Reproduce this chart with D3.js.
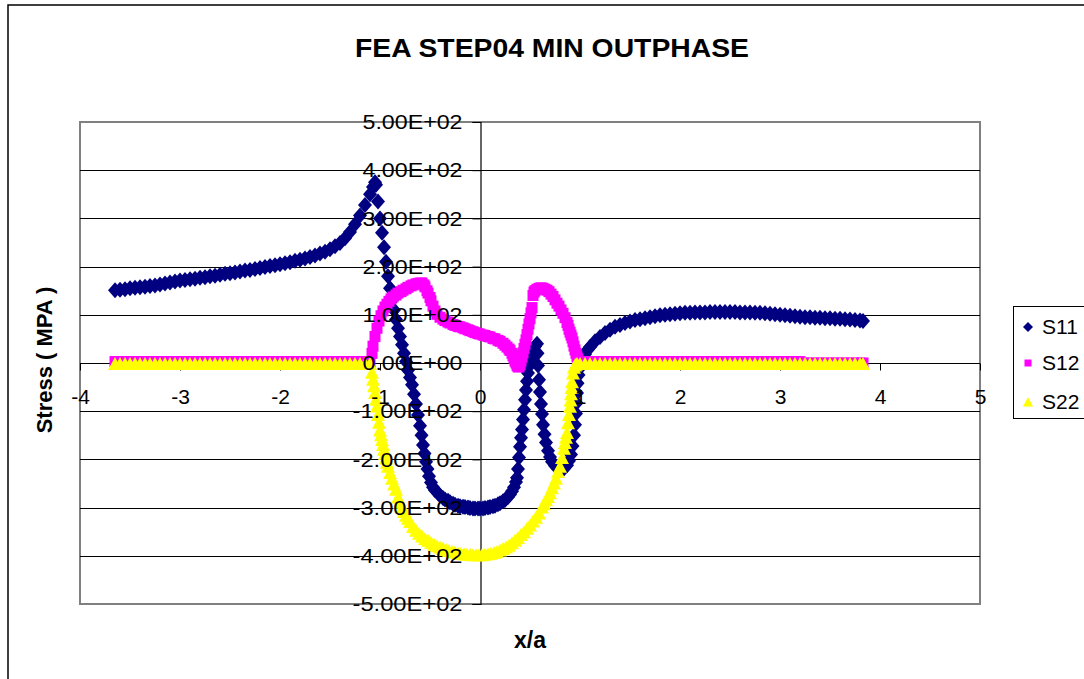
<!DOCTYPE html>
<html><head><meta charset="utf-8">
<script src="https://cdn.jsdelivr.net/npm/d3@7/dist/d3.min.js"></script>
<style>body{margin:0;background:#fff}svg{display:block}text{font-family:"Liberation Sans",Arial,sans-serif}</style>
</head><body><svg id="c" width="1084" height="679"></svg>
<script>
const chartTitle = "FEA STEP04 MIN OUTPHASE";
const xTitle = "x/a";
const yTitle = "Stress ( MPA )";
const xTicks = [-4,-3,-2,-1,0,1,2,3,4,5];
const yTicks = [500,400,300,200,100,0,-100,-200,-300,-400,-500];
const yTickLabels = ["5.00E+02","4.00E+02","3.00E+02","2.00E+02","1.00E+02","0.00E+00","-1.00E+02","-2.00E+02","-3.00E+02","-4.00E+02","-5.00E+02"];
const seriesNames = ["S11","S12","S22"];

const s11X = [-3.65,-3.6,-3.55,-3.5,-3.45,-3.4,-3.35,-3.3,-3.25,-3.2,-3.15,-3.1,-3.05,-3,-2.95,-2.9,-2.85,-2.8,-2.75,-2.7,-2.65,-2.6,-2.55,-2.5,-2.45,-2.4,-2.35,-2.3,-2.25,-2.2,-2.15,-2.1,-2.05,-2,-1.95,-1.9,-1.85,-1.8,-1.75,-1.7,-1.65,-1.6,-1.55,-1.5,-1.45,-1.4,-1.35,-1.3,-1.25,-1.2,-1.15,-1.1,-1.07,-1.05,
 -1.04,-1.02,-1,-0.98,-0.96,-0.94,-0.92,-0.9,-0.88,-0.86,-0.84,-0.82,-0.8,-0.78,-0.76,-0.74,-0.72,-0.7,-0.68,-0.66,-0.64,-0.62,-0.6,-0.585,-0.57,-0.555,-0.54,-0.525,-0.51,-0.49,-0.47,
 -0.45,-0.42,-0.4,-0.37,-0.35,-0.32,-0.3,-0.27,-0.25,-0.22,-0.2,-0.17,-0.15,-0.12,-0.1,-0.07,-0.05,-0.02,0,0.03,0.05,0.08,0.1,0.13,0.15,0.18,0.2,0.23,0.25,0.28,0.3,0.32,0.34,0.36,0.37,
 0.38,0.39,0.4,0.41,0.42,0.43,0.44,0.45,0.46,0.47,0.48,0.5,0.51,0.53,0.55,0.57,
 0.575,0.58,0.59,0.6,0.61,0.62,0.63,0.645,0.66,0.68,0.7,0.72,0.75,0.78,0.81,0.84,0.87,0.89,0.91,0.925,0.94,0.95,0.96,0.965,0.97,0.975,0.985,1,1.02,1.05,1.08,
 1.1,1.15,1.2,1.25,1.3,1.35,1.4,1.45,1.5,1.55,1.6,1.65,1.7,1.75,1.8,1.85,1.9,1.95,2,2.05,2.1,2.15,2.2,2.25,2.3,2.35,2.4,2.45,2.5,2.55,2.6,2.65,2.7,2.75,2.8,2.85,2.9,2.95,3,3.05,3.1,3.15,3.2,3.25,3.3,3.35,3.4,3.45,3.5,3.55,3.6,3.65,3.7,3.75,3.8,3.83];
const s11Y = [151,152,153,155,156,157,158,160,161,163,165,167,169,171,172,174,175,177,178,180,181,183,185,186,188,190,192,193,195,197,199,201,203,205,207,209,212,214,217,220,223,227,231,236,242,249,259,272,288,306,328,350,365,375,
 370,335,300,270,240,210,180,155,130,110,90,72,55,38,20,3,-15,-30,-45,-65,-85,-108,-130,-150,-170,-188,-205,-220,-235,-248,-258,
 -264,-270,-275,-280,-283,-286,-289,-292,-294,-296,-297,-298,-299,-300,-301,-302,-302,-302,-302,-302,-301,-300,-299,-297,-296,-293,-291,-287,-284,-278,-273,-266,-258,-247,-238,
 -220,-196,-174,-155,-138,-117,-97,-76,-56,-38,-21,-4,10,24,34,40,
 20,-5,-35,-60,-85,-106,-128,-148,-165,-182,-195,-205,-213,-219,-221,-219,-212,-203,-190,-172,-150,-128,-105,-83,-62,-42,-25,-10,4,18,28,
 33,45,54,62,69,75,79,83,86,89,91,93,95,97,99,100,101,102,103,104,104,105,105,105,106,106,106,106,106,106,105,105,105,104,104,103,102,101,100,99,98,97,96,95,95,94,94,93,93,92,92,91,90,89,88,87];

const s12X = [-3.65,-3.6,-3.55,-3.5,-3.45,-3.4,-3.35,-3.3,-3.25,-3.2,-3.15,-3.1,-3.05,-3,-2.95,-2.9,-2.85,-2.8,-2.75,-2.7,-2.65,-2.6,-2.55,-2.5,-2.45,-2.4,-2.35,-2.3,-2.25,-2.2,-2.15,-2.1,-2.05,-2,-1.95,-1.9,-1.85,-1.8,-1.75,-1.7,-1.65,-1.6,-1.55,-1.5,-1.45,-1.4,-1.35,-1.3,-1.25,-1.2,-1.15,-1.1,
 -1.08,-1.07,-1.05,-1.03,-1.01,-0.99,-0.97,-0.95,-0.93,-0.91,-0.89,-0.87,-0.84,-0.82,-0.79,-0.77,-0.74,-0.72,-0.69,-0.67,-0.64,-0.62,-0.6,-0.58,-0.56,-0.55,-0.53,-0.52,-0.5,-0.49,-0.47,-0.45,-0.43,-0.4,-0.37,-0.35,-0.32,-0.3,-0.27,-0.25,-0.22,-0.2,-0.17,-0.15,-0.12,-0.1,-0.07,-0.05,-0.02,0,0.03,0.05,0.08,0.1,0.13,0.15,0.18,0.2,0.23,0.25,0.27,0.29,0.3,0.32,0.33,0.34,0.35,0.36,0.37,0.38,0.39,0.4,0.41,0.42,0.43,0.44,0.45,0.46,0.47,0.48,0.49,0.5,0.51,0.52,0.53,0.54,0.55,0.57,0.59,0.61,0.63,0.65,0.67,0.69,0.71,0.73,0.75,0.77,0.79,0.81,0.83,0.85,0.87,0.88,0.89,0.9,0.91,0.92,0.93,0.94,0.95,0.96,0.97,0.98,
 1,1.05,1.1,1.15,1.2,1.25,1.3,1.35,1.4,1.45,1.5,1.55,1.6,1.65,1.7,1.75,1.8,1.85,1.9,1.95,2,2.05,2.1,2.15,2.2,2.25,2.3,2.35,2.4,2.45,2.5,2.55,2.6,2.65,2.7,2.75,2.8,2.85,2.9,2.95,3,3.05,3.1,3.15,3.2,3.25,3.3,3.35,3.4,3.45,3.5,3.55,3.6,3.65,3.7,3.75,3.8,3.83];
const s12Y = [3,3,3,3,3,3,3,3,3,3,3,3,3,3,3,3,3,3,3,3,3,3,3,3,3,3,3,3,3,3,3,3,3,3,3,3,3,3,3,3,3,3,3,3,3,3,3,3,3,3,3,3,
 20,35,55,72,87,98,108,116,122,128,133,137,141,145,148,151,154,157,160,162,164,165,166,166,162,158,150,145,136,129,118,108,101,95,91,88,85,83,80,78,76,75,73,71,69,67,65,63,61,60,58,57,55,54,51,50,47,45,41,37,33,29,26,20,15,10,4,0,-5,-8,-8,-4,4,12,21,30,39,48,59,70,81,92,104,115,140,147,150,153,155,156,155,153,151,148,143,138,131,124,118,110,103,94,84,78,70,64,58,52,44,35,27,20,13,8,
 3,3,3,3,3,3,3,3,3,3,3,3,3,3,3,3,3,3,3,3,3,3,3,3,3,3,3,3,3,3,3,3,3,3,3,3,3,3,3,3,3,3,3,3,3,0,0,0,0,0,0,0,0,0,0,0,0,0];

const s22X = [-3.65,-3.6,-3.55,-3.5,-3.45,-3.4,-3.35,-3.3,-3.25,-3.2,-3.15,-3.1,-3.05,-3,-2.95,-2.9,-2.85,-2.8,-2.75,-2.7,-2.65,-2.6,-2.55,-2.5,-2.45,-2.4,-2.35,-2.3,-2.25,-2.2,-2.15,-2.1,-2.05,-2,-1.95,-1.9,-1.85,-1.8,-1.75,-1.7,-1.65,-1.6,-1.55,-1.5,-1.45,-1.4,-1.35,-1.3,-1.25,-1.2,-1.15,-1.1,
 -1.08,-1.07,-1.06,-1.05,-1.04,-1.03,-1.02,-1.01,-1,-0.99,-0.98,-0.97,-0.96,-0.95,-0.94,-0.93,-0.92,-0.9,-0.88,-0.86,-0.84,-0.82,-0.8,-0.78,-0.76,-0.74,-0.72,-0.7,-0.67,-0.64,-0.61,-0.58,-0.55,-0.52,-0.49,-0.46,-0.43,-0.4,-0.37,-0.34,-0.31,-0.28,-0.25,-0.22,-0.19,-0.16,-0.13,-0.1,-0.07,-0.04,-0.01,0.02,0.05,0.08,0.11,0.14,0.17,0.2,0.23,0.26,0.29,0.32,0.35,0.38,0.41,0.44,0.47,0.5,0.53,0.56,0.59,0.62,0.64,0.66,0.68,0.7,0.72,0.74,0.76,0.78,0.8,0.82,0.84,0.85,0.86,0.87,0.88,0.89,0.9,0.905,0.91,0.915,0.92,0.93,0.94,0.95,0.96,0.97,
 1,1.05,1.1,1.15,1.2,1.25,1.3,1.35,1.4,1.45,1.5,1.55,1.6,1.65,1.7,1.75,1.8,1.85,1.9,1.95,2,2.05,2.1,2.15,2.2,2.25,2.3,2.35,2.4,2.45,2.5,2.55,2.6,2.65,2.7,2.75,2.8,2.85,2.9,2.95,3,3.05,3.1,3.15,3.2,3.25,3.3,3.35,3.4,3.45,3.5,3.55,3.6,3.65,3.7,3.75,3.8,3.83];
const s22Y = [-2,-2,-2,-2,-2,-2,-2,-2,-2,-2,-2,-2,-2,-2,-2,-2,-2,-2,-2,-2,-2,-2,-2,-2,-2,-2,-2,-2,-2,-2,-2,-2,-2,-2,-2,-2,-2,-2,-2,-2,-2,-2,-2,-2,-2,-2,-2,-2,-2,-2,-2,-2,
 -20,-35,-48,-62,-76,-90,-108,-124,-140,-150,-160,-170,-180,-189,-198,-207,-215,-228,-240,-252,-263,-279,-290,-300,-309,-317,-323,-330,-340,-348,-354,-360,-365,-369,-373,-377,-380,-383,-385,-388,-390,-392,-393,-395,-396,-397,-398,-398,-399,-399,-399,-399,-398,-397,-396,-394,-392,-389,-386,-383,-379,-374,-369,-363,-357,-351,-344,-337,-329,-321,-312,-300,-293,-285,-278,-270,-260,-250,-240,-226,-215,-197,-178,-166,-155,-145,-125,-108,-91,-78,-65,-52,-40,-22,-10,-5,-3,-2,
 -2,-2,-2,-2,-2,-2,-2,-2,-2,-2,-2,-2,-2,-2,-2,-2,-2,-2,-2,-2,-2,-2,-2,-2,-2,-2,-2,-2,-2,-2,-2,-2,-2,-2,-2,-2,-2,-2,-2,-2,-2,-2,-2,-2,-2,-2,-2,-2,-2,-2,-2,-2,-2,-2,-2,-2,-2,-2];

const svg = d3.select("#c");
const x = d3.scaleLinear().domain([-4,5]).range([80,980]);
const y = d3.scaleLinear().domain([-500,500]).range([604,122]);

// outer chart border
svg.append("rect").attr("x",8).attr("y",5).attr("width",1100).attr("height",700)
  .attr("fill","#fff").attr("stroke","#000").attr("stroke-width",1.5);

// title
svg.append("text").attr("x",552).attr("y",57).attr("text-anchor","middle")
  .attr("font-size",25).attr("font-weight","bold").attr("textLength",394).attr("lengthAdjust","spacingAndGlyphs").text(chartTitle);

// plot area
svg.append("rect").attr("x",x(-4)).attr("y",y(500)).attr("width",x(5)-x(-4)).attr("height",y(-500)-y(500))
  .attr("fill","#fff").attr("stroke","#808080").attr("stroke-width",2);

// gridlines
svg.append("g").selectAll("line").data(yTicks.filter(v=>Math.abs(v)<500 && v!==0)).join("line")
  .attr("x1",x(-4)).attr("x2",x(5)).attr("y1",d=>Math.round(y(d))+0.5).attr("y2",d=>Math.round(y(d))+0.5)
  .attr("stroke","#000").attr("stroke-width",1);

// axes (lines & ticks, under series)
const xAxisG = svg.append("g").attr("transform",`translate(0,${Math.round(y(0))+0.5})`)
  .call(d3.axisBottom(x).tickValues(xTicks).tickSize(7).tickFormat(""));
const yAxisG = svg.append("g").attr("transform",`translate(${x(0)+0.5},0)`)
  .call(d3.axisLeft(y).tickValues(yTicks).tickSize(8).tickFormat(""));
[xAxisG,yAxisG].forEach(g=>{g.select(".domain").attr("stroke","#000").attr("stroke-width",1.2);g.selectAll(".tick line").attr("stroke","#000");});
xAxisG.select(".domain").attr("d",`M${x(-4)},0H${x(5)}`);

// markers
const diamond = "M0,-8L7,0L0,8L-7,0Z";
const square = "M-5.5,-5.5H5.5V5.5H-5.5Z";
const tri = "M0,-7L7,6H-7Z";
function drawSeries(xs, ys, path, color){
  svg.append("g").selectAll("path").data(xs.map((v,i)=>[v,ys[i]])).join("path")
    .attr("d",path).attr("fill",color)
    .attr("transform",d=>`translate(${x(d[0])},${y(d[1])})`);
}
drawSeries(s11X,s11Y,diamond,"#000080");
drawSeries(s12X,s12Y,square,"#FF00FF");
drawSeries(s22X,s22Y,tri,"#FFFF00");

// tick labels (on top)
const xLab = svg.append("g").attr("transform",`translate(0,${Math.round(y(0))+0.5})`)
  .call(d3.axisBottom(x).tickValues(xTicks).tickSize(7).tickPadding(19).tickFormat(d=>String(d)));
xLab.select(".domain").remove(); xLab.selectAll(".tick line").remove();
xLab.selectAll("text").attr("font-size",21).attr("font-family","Liberation Sans, Arial, sans-serif").attr("fill","#000");
const yLab = svg.append("g").attr("transform",`translate(${x(0)+0.5},0)`)
  .call(d3.axisLeft(y).tickValues(yTicks).tickSize(8).tickPadding(10).tickFormat((d,i)=>yTickLabels[i]));
yLab.select(".domain").remove(); yLab.selectAll(".tick line").remove();
yLab.selectAll("text").attr("font-size",21).attr("font-family","Liberation Sans, Arial, sans-serif").attr("fill","#000")
  .attr("textLength",(d,i)=>yTickLabels[i].length>8?110:100).attr("lengthAdjust","spacingAndGlyphs");

// axis titles
svg.append("text").attr("x",530).attr("y",648).attr("text-anchor","middle").attr("font-size",23).attr("font-weight","bold").text(xTitle);
svg.append("text").attr("transform","translate(52,360) rotate(-90)").attr("text-anchor","middle").attr("font-size",22).attr("font-weight","bold").text(yTitle);

// legend
const lg = svg.append("g");
lg.append("rect").attr("x",1013.5).attr("y",306.5).attr("width",100).attr("height",112).attr("fill","#fff").attr("stroke","#000").attr("stroke-width",1);
const legPaths = ["M0,-5L5,0L0,5L-5,0Z","M-3.5,-3.5H3.5V3.5H-3.5Z","M0,-5L5,4.5H-5Z"];
const legColors = ["#000080","#FF00FF","#FFFF00"];
const legY = [327,363,402];
seriesNames.forEach((n,i)=>{
  lg.append("path").attr("d",legPaths[i]).attr("fill",legColors[i]).attr("transform",`translate(1028,${legY[i]})`);
  lg.append("text").attr("x",1042).attr("y",legY[i]+7).attr("font-size",21).text(n);
});
</script></body></html>
